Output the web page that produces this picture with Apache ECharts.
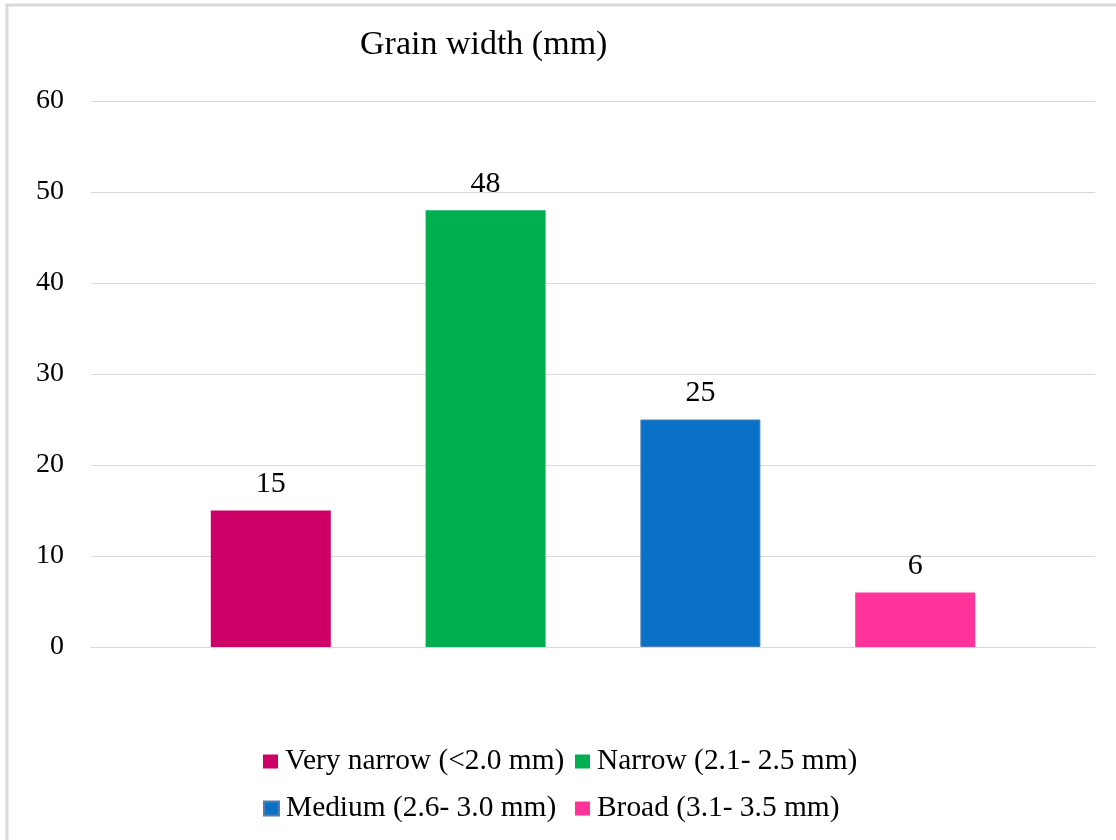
<!DOCTYPE html>
<html>
<head>
<meta charset="utf-8">
<title>Grain width (mm)</title>
<script src="https://cdn.jsdelivr.net/npm/echarts@6/dist/echarts.min.js"></script>
<style>
  html, body { margin: 0; padding: 0; background: #fff; }
  #chart { width: 1116px; height: 840px; }
</style>
</head>
<body>
<div id="chart"></div>
<script>
// Grain width classes and the share of entries in each class
const titleText = 'Grain width (mm)';
const classNames = ['Very narrow (<2.0 mm)', 'Narrow (2.1- 2.5 mm)', 'Medium (2.6- 3.0 mm)', 'Broad (3.1- 3.5 mm)'];
const classValues = [15, 48, 25, 6];
const classColors = ['#CC0066', '#00B050', '#0A72C6', '#FF3399'];
const yTicks = { min: 0, max: 60, interval: 10 };

const FONT = '"Liberation Serif", "Times New Roman", serif';

const chart = echarts.init(document.getElementById('chart'), null, { renderer: 'canvas' });

const series = classNames.map((name, i) => ({
  name: name,
  type: 'bar',
  data: [classValues[i]],
  barWidth: 120,
  barGap: '79%',
  itemStyle: i === 2
    ? { color: classColors[i], borderColor: '#4f7fb3', borderWidth: 1 }
    : { color: classColors[i] },
  label: {
    show: true,
    position: 'top',
    distance: 11,
    fontFamily: FONT,
    fontSize: 30,
    color: '#000'
  },
  emphasis: { disabled: true }
}));

// one legend per entry so the two rows line up as columns
const legendSpots = [
  { left: 263, top: 747 },
  { left: 575, top: 747 },
  { left: 263, top: 794 },
  { left: 575, top: 794 }
];
const legends = classNames.map((name, i) => ({
  data: [name],
  left: legendSpots[i].left,
  top: legendSpots[i].top,
  icon: 'rect',
  itemWidth: 15,
  itemHeight: 14,
  padding: 0,
  selectedMode: false,
  textStyle: { fontFamily: FONT, fontSize: 29.4, color: '#000', padding: [0, 0, 0, 2] }
}));

chart.setOption({
  backgroundColor: '#fff',
  animation: false,
  title: {
    text: titleText,
    left: 360,
    top: 28,
    padding: 0,
    textStyle: { fontFamily: FONT, fontSize: 34, fontWeight: 'normal', color: '#000' }
  },
  legend: legends,
  grid: { left: 91, right: 21, top: 101, bottom: 193 },
  xAxis: {
    type: 'category',
    data: [''],
    axisLine: { show: true, lineStyle: { color: '#d9d9d9', width: 1 } },
    axisTick: { show: false },
    axisLabel: { show: false }
  },
  yAxis: {
    type: 'value',
    min: yTicks.min,
    max: yTicks.max,
    interval: yTicks.interval,
    axisLine: { show: false },
    axisTick: { show: false },
    splitLine: { lineStyle: { color: '#d9d9d9', width: 1 } },
    axisLabel: { fontFamily: FONT, fontSize: 28, color: '#000', margin: 27 }
  },
  series: series,
  graphic: [{
    type: 'rect',
    silent: true,
    shape: { x: 7, y: 5, width: 1200, height: 1000 },
    style: { fill: 'none', stroke: '#d9d9d9', lineWidth: 3 }
  }]
});
</script>
</body>
</html>
